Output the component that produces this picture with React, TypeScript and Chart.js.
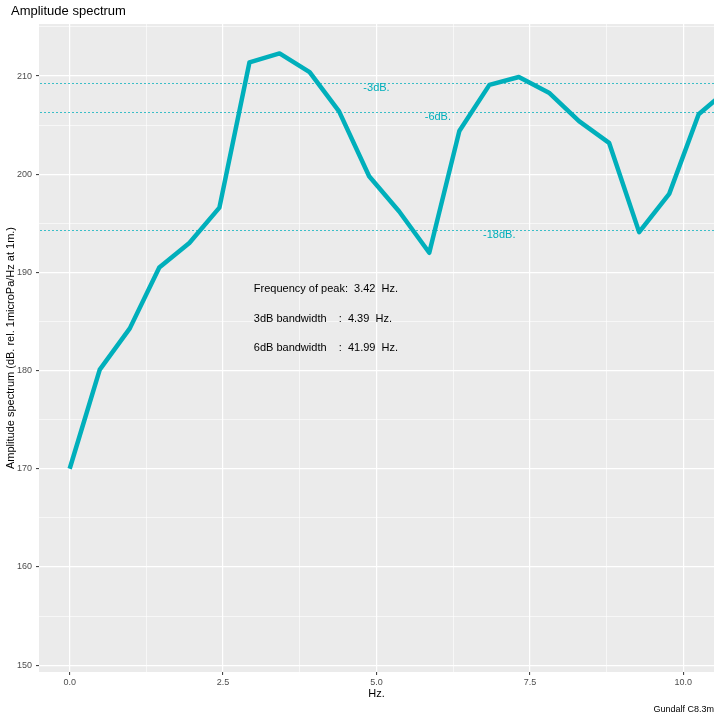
import React, { useEffect, useRef } from "react";
import { Chart, registerables } from "chart.js";

Chart.register(...registerables);

// ---- data ----
const freqHz = [
  0, 0.49, 0.98, 1.46, 1.95, 2.44, 2.93, 3.42, 3.91, 4.39, 4.88, 5.37,
  5.86, 6.35, 6.84, 7.32, 7.81, 8.3, 8.79, 9.28, 9.77, 10.25, 10.74,
];
const amplitudeDb = [
  170.0, 180.1, 184.3, 190.5, 193.0, 196.6, 211.4, 212.3, 210.4, 206.4,
  199.8, 196.2, 192.0, 204.4, 209.1, 209.9, 208.3, 205.4, 203.2, 194.1,
  198.0, 206.1, 208.7,
];
const dbDrops = [3, 6, 18];
const dbLabels = ["-3dB.", "-6dB.", "-18dB."];
const dbLabelFreq = [5, 6, 7];

const xMajorTicks = [0, 2.5, 5, 7.5, 10];
const xTickLabels = ["0.0", "2.5", "5.0", "7.5", "10.0"];
const xMinorTicks = [1.25, 3.75, 6.25, 8.75];
const yMajorTicks = [150, 160, 170, 180, 190, 200, 210];
const yTickLabels = ["150", "160", "170", "180", "190", "200", "210"];
const yMinorTicks = [155, 165, 175, 185, 195, 205, 215];

const infoLines = [
  "Frequency of peak:  3.42  Hz.",
  "3dB bandwidth    :  4.39  Hz.",
  "6dB bandwidth    :  41.99  Hz.",
];
const infoFreq = 3.0;
const infoLevels = [188.3, 185.3, 182.3];

const titleText = "Amplitude spectrum";
const captionText = "Gundalf C8.3m";
const xTitle = "Hz.";
const yTitle = "Amplitude spectrum (dB. rel. 1microPa/Hz at 1m.)";

// ---- style ----
const FONT = '"Liberation Sans", Arial, Helvetica, sans-serif';
const TEAL = "#00AFBB";
const PANEL = "#EBEBEB";
const TICK_GREY = "#4D4D4D";

const isMajor = (v: number, majors: number[]) =>
  majors.some((m) => Math.abs(m - v) < 1e-9);

const decorPlugin = {
  id: "decor",
  beforeDraw(chart: any) {
    const { ctx, chartArea } = chart;
    ctx.save();
    ctx.fillStyle = "#FFFFFF";
    ctx.fillRect(0, 0, chart.width, chart.height);
    ctx.fillStyle = PANEL;
    ctx.fillRect(
      chartArea.left,
      chartArea.top,
      chartArea.right - chartArea.left,
      chartArea.bottom - chartArea.top
    );
    ctx.restore();
  },
  afterDatasetsDraw(chart: any) {
    const { ctx, chartArea } = chart;
    const xs = chart.scales.x;
    const ys = chart.scales.y;
    const peak = Math.max(...amplitudeDb);
    ctx.save();
    dbDrops.forEach((d, i) => {
      const py = Math.round(ys.getPixelForValue(peak - d));
      // dotted reference line
      ctx.fillStyle = TEAL;
      ctx.globalAlpha = 0.75;
      for (let x = Math.round(chartArea.left) + 1; x < chartArea.right; x += 4) {
        ctx.fillRect(x, py, Math.min(2, chartArea.right - x), 1);
      }
      ctx.globalAlpha = 1;
      ctx.font = `11px ${FONT}`;
      ctx.textAlign = "center";
      ctx.textBaseline = "middle";
      ctx.fillText(dbLabels[i], xs.getPixelForValue(dbLabelFreq[i]), py + 4.5);
    });
    ctx.restore();
  },
  afterDraw(chart: any) {
    const { ctx, chartArea } = chart;
    const xs = chart.scales.x;
    const ys = chart.scales.y;
    ctx.save();
    ctx.fillStyle = "#000000";
    ctx.font = `11px ${FONT}`;
    ctx.textAlign = "left";
    ctx.textBaseline = "middle";
    infoLines.forEach((t, i) => {
      ctx.fillText(t, xs.getPixelForValue(infoFreq), ys.getPixelForValue(infoLevels[i]));
    });
    ctx.font = `13px ${FONT}`;
    ctx.fillText(titleText, 11, 11);
    ctx.font = `9px ${FONT}`;
    ctx.textAlign = "right";
    ctx.fillText(captionText, chartArea.right, 710);
    ctx.restore();
  },
};

export default function App() {
  const ref = useRef<HTMLCanvasElement | null>(null);

  useEffect(() => {
    if (!ref.current) return;
    const points = freqHz.map((f, i) => ({ x: f, y: amplitudeDb[i] }));
    const chart = new Chart(ref.current, {
      type: "line",
      data: {
        datasets: [
          {
            data: points,
            borderColor: TEAL,
            backgroundColor: TEAL,
            borderWidth: 4.5,
            pointRadius: 0,
            borderJoinStyle: "round",
            borderCapStyle: "butt",
            tension: 0,
            clip: 0,
          } as any,
        ],
      },
      options: {
        responsive: false,
        animation: false,
        events: [],
        layout: { padding: { left: 0, top: 24, right: 6, bottom: 14 } },
        plugins: {
          legend: { display: false },
          tooltip: { enabled: false },
          title: { display: false },
        },
        scales: {
          x: {
            type: "linear",
            min: -0.5,
            max: 10.5,
            afterBuildTicks: (scale: any) => {
              scale.ticks = [...xMajorTicks, ...xMinorTicks]
                .sort((a, b) => a - b)
                .map((v) => ({ value: v }));
            },
            afterFit: (scale: any) => {
              scale.height = 34;
            },
            border: { display: false },
            grid: {
              color: "#FFFFFF",
              lineWidth: (c: any) => (isMajor(c.tick?.value, xMajorTicks) ? 1.2 : 0.6),
              tickLength: 3,
              tickColor: (c: any) =>
                isMajor(c.tick?.value, xMajorTicks) ? "#333333" : "rgba(0,0,0,0)",
              tickWidth: 1,
            },
            ticks: {
              autoSkip: false,
              maxRotation: 0,
              padding: 2,
              color: TICK_GREY,
              font: { family: FONT, size: 9 },
              callback: (v: any) => {
                const i = xMajorTicks.findIndex((m) => Math.abs(m - v) < 1e-9);
                return i >= 0 ? xTickLabels[i] : "";
              },
            },
            title: {
              display: true,
              text: xTitle,
              color: "#000000",
              font: { family: FONT, size: 11 },
              padding: { top: 0, bottom: 5 },
            },
          },
          y: {
            type: "linear",
            min: 149.3,
            max: 215.3,
            afterBuildTicks: (scale: any) => {
              scale.ticks = [...yMajorTicks, ...yMinorTicks]
                .sort((a, b) => a - b)
                .map((v) => ({ value: v }));
            },
            afterFit: (scale: any) => {
              scale.width = 39;
            },
            border: { display: false },
            grid: {
              color: "#FFFFFF",
              lineWidth: (c: any) => (isMajor(c.tick?.value, yMajorTicks) ? 1.2 : 0.6),
              tickLength: 3,
              tickColor: (c: any) =>
                isMajor(c.tick?.value, yMajorTicks) ? "#333333" : "rgba(0,0,0,0)",
              tickWidth: 1,
            },
            ticks: {
              autoSkip: false,
              padding: 4,
              color: TICK_GREY,
              font: { family: FONT, size: 9 },
              callback: (v: any) => {
                const i = yMajorTicks.findIndex((m) => Math.abs(m - v) < 1e-9);
                return i >= 0 ? yTickLabels[i] : "";
              },
            },
            title: {
              display: true,
              text: yTitle,
              color: "#000000",
              font: { family: FONT, size: 11 },
              padding: { top: 4, bottom: 0 },
            },
          },
        },
      },
      plugins: [decorPlugin],
    });
    return () => chart.destroy();
  }, []);

  return (
    <div style={{ position: "absolute", left: 0, top: 0, width: 720, height: 720 }}>
      <canvas ref={ref} width={720} height={720} style={{ display: "block" }} />
    </div>
  );
}
